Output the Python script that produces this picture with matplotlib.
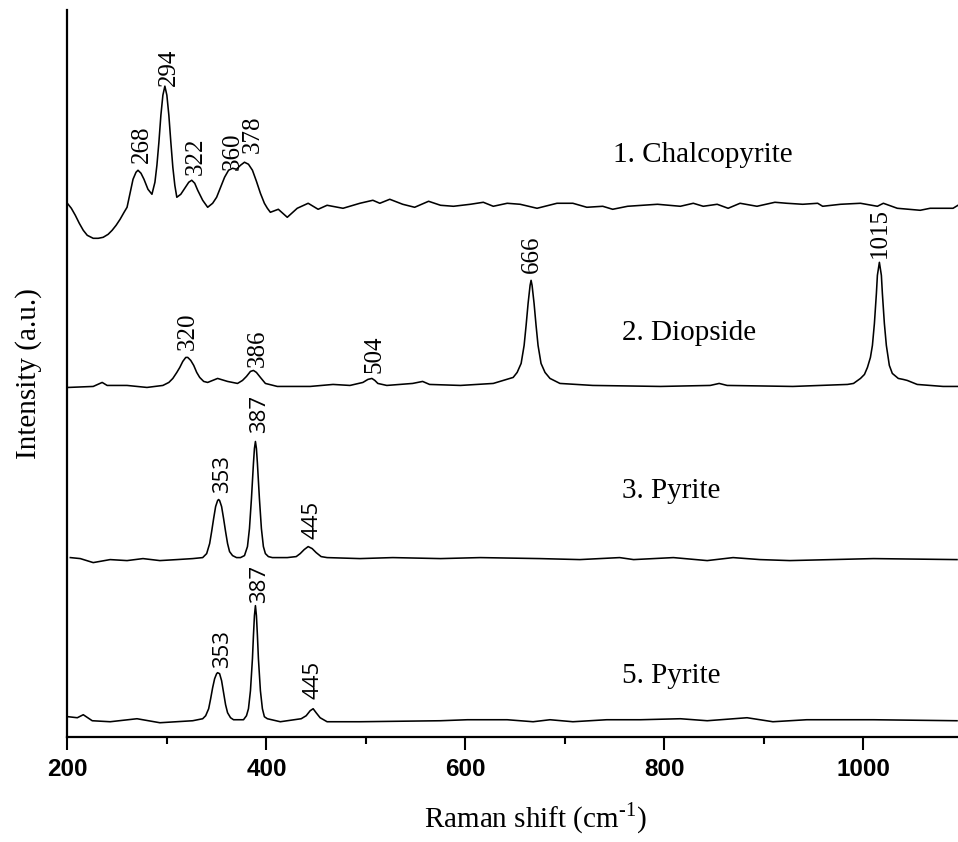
import matplotlib
matplotlib.use("Agg")
import matplotlib.pyplot as plt
from matplotlib.ticker import MultipleLocator

# Raman shift (cm-1) and intensity (a.u., relative to each trace's baseline)
chalco_x = [200, 204, 208, 212, 216, 220, 226, 231, 236, 241, 245, 249, 253, 257, 260, 263,
            266, 269, 271, 274, 277, 281, 285, 288, 290, 292, 294, 296, 298, 300, 302, 304,
            306, 308, 310, 314, 318, 322, 325, 328, 331, 336, 341, 346, 350, 354, 358, 362,
            366, 370, 374, 378, 382, 386, 390, 394, 398, 401, 404, 412, 421, 431, 442, 452,
            461, 477, 494, 507, 514, 524, 537, 549, 563, 575, 588, 605, 618, 628, 642, 655,
            672, 692, 708, 722, 738, 748, 763, 793, 816, 829, 839, 853, 864, 876, 893, 911,
            923, 939, 954, 959, 977, 997, 1014, 1020, 1034, 1057, 1067, 1090, 1095]
chalco_y = [4, -1, -8, -16, -23, -28, -31, -31, -30, -27, -23, -18, -12, -5, 0, 14,
            28, 35, 37, 34, 28, 18, 13, 25, 42, 65, 92, 112, 121, 112, 92, 65,
            40, 22, 10, 13, 19, 25, 27, 24, 17, 7, 0, 4, 10, 20, 30, 37,
            39, 38, 42, 45, 43, 37, 26, 14, 4, -1, -5, -2, -10, -1, 4, -2,
            2, -1, 4, 7, 4, 8, 3, 0, 6, 2, 1, 3, 5, 1, 4, 3,
            -1, 4, 4, 0, 1, -2, 1, 3, 1, 4, 1, 3, -1, 4, 1, 5,
            4, 3, 4, 1, 3, 4, 1, 4, -1, -3, -1, -1, 2]

diop_x = [201, 226, 235, 240, 260, 280, 296, 302, 306, 310, 313, 316, 319, 321, 324, 327,
          330, 333, 337, 341, 351, 361, 371, 376, 380, 384, 387, 390, 394, 399, 411, 444,
          467, 484, 497, 502, 506, 509, 512, 521, 547, 557, 564, 595, 628, 648, 652, 656,
          659, 661, 663, 665, 666, 667, 669, 671, 673, 676, 680, 685, 695, 728, 796, 846,
          855, 863, 929, 984, 990, 997, 1001, 1004, 1007, 1009, 1011, 1013, 1014, 1016, 1018,
          1019, 1021, 1023, 1026, 1029, 1035, 1040, 1044, 1049, 1054, 1080, 1095]
diop_y = [-2, -1, 3, 0, 0, -2, 0, 3, 7, 13, 18, 24, 28, 28, 25, 20,
          13, 8, 4, 3, 7, 4, 2, 5, 9, 14, 15, 13, 8, 2, -1, -1,
          1, 0, 3, 6, 7, 5, 2, 0, 2, 4, 1, 0, 2, 8, 13, 22,
          40, 60, 82, 100, 105, 100, 82, 60, 40, 22, 13, 7, 2, 0, -1, 0,
          2, 0, -1, 1, 2, 7, 11, 18, 28, 40, 62, 92, 110, 123, 110,
          92, 62, 40, 20, 12, 7, 6, 5, 3, 1, -1, -1]

pyr3_x = [203, 213, 226, 243, 260, 276, 293, 310, 326, 336, 340, 343, 345, 347, 349, 351,
          352, 353, 355, 357, 359, 361, 363, 366, 370, 374, 378, 381, 383, 385, 387, 388,
          389, 390, 391, 393, 395, 397, 399, 402, 406, 421, 430, 434, 438, 442, 446, 450,
          455, 461, 494, 527, 575, 615, 675, 715, 755, 769, 809, 843, 869, 896, 926, 1010, 1094]
pyr3_y = [1, 0, -4, -1, -2, 0, -2, -1, 0, 1, 5, 15, 27, 40, 52, 58,
          59, 58, 52, 40, 27, 15, 7, 3, 1, 1, 3, 12, 30, 60, 95, 110,
          117, 110, 95, 60, 30, 12, 5, 2, 1, 1, 2, 5, 9, 12, 10, 6,
          2, 1, 0, 1, 0, 1, 0, -1, 1, -1, 1, -2, 1, -1, -2, 0, -1]

pyr5_x = [201, 210, 216, 225, 243, 270, 293, 326, 336, 339, 342, 344, 346, 348, 350, 351,
          353, 355, 357, 359, 361, 364, 367, 377, 380, 382, 384, 386, 387, 388, 389, 390,
          391, 392, 394, 396, 398, 401, 414, 435, 440, 444, 447, 450, 454, 461, 494, 575,
          602, 642, 668, 685, 708, 742, 776, 816, 843, 883, 909, 943, 1010, 1094]
pyr5_y = [4, 3, 6, 0, -1, 2, -2, 0, 2, 5, 12, 22, 33, 42, 47, 48,
          47, 40, 28, 16, 8, 3, 1, 1, 5, 12, 30, 62, 85, 105, 115, 105,
          85, 62, 30, 12, 4, 2, -1, 2, 5, 10, 12, 8, 3, -1, -1, 0,
          1, 1, -1, 1, -1, 1, 1, 2, 0, 3, -1, 1, 1, 0]

names = ["1. Chalcopyrite", "2. Diopside", "3. Pyrite", "5. Pyrite"]

# peak labels: (text, x, y)
chalco_peaks = [("268", 275, 573), ("294", 302, 650), ("322", 329, 561),
                ("360", 366, 566), ("378", 386, 583)]
diop_peaks = [("320", 321, 386), ("386", 391, 369), ("504", 509, 363),
              ("666", 667, 463), ("1015", 1016, 478)]
pyr3_peaks = [("353", 356, 244), ("387", 393, 303), ("445", 446, 198)]
pyr5_peaks = [("353", 356, 69), ("387", 393, 134), ("445", 447, 38)]

serif = "Liberation Serif"
sans = "Liberation Sans"
plt.rcParams["mathtext.fontset"] = "custom"
plt.rcParams["mathtext.rm"] = serif

fig = plt.figure(figsize=(9.58, 8.42), dpi=100)
ax = fig.add_axes([0.0703, 0.125, 0.9297, 0.863])

offsets = [529, 351, 178, 16]
traces = [(chalco_x, chalco_y), (diop_x, diop_y), (pyr3_x, pyr3_y), (pyr5_x, pyr5_y)]
for (xs, ys), off in zip(traces, offsets):
    ax.plot(xs, [v + off for v in ys], color="black", lw=1.15,
            solid_joinstyle="round")

# sample names
name_pos = [(748, 581), (757, 403), (757, 246), (757, 61)]
for name, (nx, ny) in zip(names, name_pos):
    ax.text(nx, ny, name, fontsize=21, family=serif, va="center", ha="left")

for lbl, lx, ly in chalco_peaks + diop_peaks:
    ax.text(lx, ly, lbl, rotation=90, fontsize=18, family=serif, ha="center", va="bottom")
for lbl, lx, ly in pyr3_peaks + pyr5_peaks:
    ax.text(lx, ly, lbl, rotation=90, fontsize=16, family="Open Sans", ha="center", va="bottom")

ax.set_xlim(200, 1095)
ax.set_ylim(0, 726)
ax.spines["top"].set_visible(False)
ax.spines["right"].set_visible(False)
ax.spines["left"].set_linewidth(1.6)
ax.spines["bottom"].set_linewidth(1.6)
ax.set_yticks([])
ax.xaxis.set_major_locator(MultipleLocator(200))
ax.xaxis.set_minor_locator(MultipleLocator(100))
ax.tick_params(axis="x", which="major", length=9.5, width=1.5, pad=6)
ax.tick_params(axis="x", which="minor", length=5, width=1.5)
for t in ax.get_xticklabels():
    t.set_fontfamily(sans)
    t.set_fontweight("bold")
    t.set_fontsize(17.5)

ax.set_xlabel(r"Raman shift (cm$^{\text{-1}}$)", fontsize=21, family=serif)
ax.xaxis.set_label_coords(0.525, -0.088)
ax.set_ylabel("Intensity (a.u.)", fontsize=21, family=serif, labelpad=18)

fig.savefig("out.png", dpi=100)
